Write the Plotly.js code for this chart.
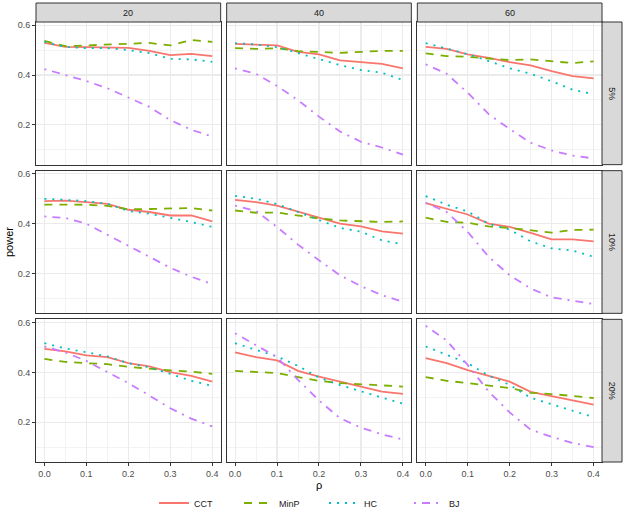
<!DOCTYPE html>
<html><head><meta charset="utf-8">
<script src="https://cdn.plot.ly/plotly-3.0.1.min.js"></script>
<style>html,body{margin:0;padding:0;background:#fff}#chart{width:624px;height:522px}</style>
</head><body><div id="chart"></div>
<script>
// ---- data ----
const rho = [0, 0.05, 0.1, 0.15, 0.2, 0.25, 0.3, 0.35, 0.4];
const colLevels = ['20', '40', '60'];
const rowLevels = ['5%', '10%', '20%'];
const methods = ['CCT', 'MinP', 'HC', 'BJ'];

// row 5%
const CCT_20_5  = [0.529,0.513,0.512,0.512,0.509,0.497,0.480,0.485,0.476];
const MinP_20_5 = [0.537,0.516,0.519,0.523,0.525,0.529,0.519,0.541,0.533];
const HC_20_5   = [0.533,0.513,0.508,0.508,0.500,0.488,0.465,0.463,0.453];
const BJ_20_5   = [0.424,0.401,0.376,0.347,0.311,0.272,0.219,0.180,0.153];
const CCT_40_5  = [0.525,0.523,0.519,0.493,0.483,0.459,0.452,0.445,0.427];
const MinP_40_5 = [0.508,0.505,0.508,0.496,0.493,0.489,0.493,0.497,0.497];
const HC_40_5   = [0.528,0.523,0.512,0.488,0.463,0.440,0.420,0.409,0.380];
const BJ_40_5   = [0.427,0.405,0.356,0.299,0.233,0.173,0.132,0.109,0.080];
const CCT_60_5  = [0.513,0.505,0.483,0.469,0.452,0.439,0.416,0.396,0.387];
const MinP_60_5 = [0.487,0.476,0.473,0.467,0.460,0.463,0.456,0.448,0.455];
const HC_60_5   = [0.528,0.505,0.484,0.456,0.427,0.405,0.375,0.341,0.323];
const BJ_60_5   = [0.443,0.405,0.329,0.243,0.183,0.128,0.097,0.076,0.065];
// row 10%
const CCT_20_10  = [0.491,0.493,0.487,0.480,0.456,0.447,0.433,0.433,0.409];
const MinP_20_10 = [0.477,0.477,0.476,0.472,0.458,0.459,0.460,0.463,0.453];
const HC_20_10   = [0.500,0.497,0.491,0.480,0.451,0.440,0.424,0.407,0.387];
const BJ_20_10   = [0.429,0.423,0.400,0.356,0.312,0.269,0.223,0.187,0.157];
const CCT_40_10  = [0.496,0.487,0.473,0.447,0.424,0.400,0.389,0.369,0.360];
const MinP_40_10 = [0.453,0.444,0.445,0.433,0.421,0.413,0.411,0.407,0.409];
const HC_40_10   = [0.512,0.500,0.479,0.447,0.415,0.383,0.368,0.333,0.317];
const BJ_40_10   = [0.473,0.451,0.387,0.316,0.253,0.193,0.149,0.113,0.086];
const CCT_60_10  = [0.483,0.460,0.437,0.400,0.387,0.363,0.337,0.337,0.329];
const MinP_60_10 = [0.424,0.407,0.404,0.389,0.383,0.373,0.364,0.375,0.376];
const HC_60_10   = [0.511,0.476,0.449,0.400,0.376,0.329,0.301,0.292,0.267];
const BJ_60_10   = [0.484,0.447,0.367,0.267,0.193,0.140,0.104,0.091,0.077];
// row 20%
const CCT_20_20  = [0.494,0.484,0.468,0.461,0.437,0.424,0.401,0.386,0.363];
const MinP_20_20 = [0.454,0.442,0.437,0.433,0.422,0.414,0.408,0.403,0.394];
const HC_20_20   = [0.517,0.496,0.481,0.464,0.437,0.420,0.394,0.366,0.346];
const BJ_20_20   = [0.504,0.480,0.446,0.403,0.357,0.307,0.256,0.214,0.183];
const CCT_40_20  = [0.480,0.461,0.448,0.406,0.383,0.363,0.346,0.323,0.314];
const MinP_40_20 = [0.406,0.401,0.397,0.381,0.366,0.357,0.353,0.346,0.343];
const HC_40_20   = [0.517,0.489,0.464,0.426,0.379,0.349,0.323,0.299,0.274];
const BJ_40_20   = [0.557,0.510,0.461,0.370,0.287,0.216,0.178,0.151,0.130];
const CCT_60_20  = [0.457,0.437,0.409,0.386,0.363,0.322,0.305,0.286,0.270];
const MinP_60_20 = [0.381,0.366,0.357,0.347,0.337,0.318,0.313,0.305,0.297];
const HC_60_20   = [0.504,0.470,0.437,0.387,0.350,0.298,0.271,0.244,0.220];
const BJ_60_20   = [0.587,0.528,0.430,0.323,0.239,0.170,0.141,0.116,0.100];

const panels = {
  CCT:  [[CCT_20_5, CCT_40_5, CCT_60_5], [CCT_20_10, CCT_40_10, CCT_60_10], [CCT_20_20, CCT_40_20, CCT_60_20]],
  MinP: [[MinP_20_5, MinP_40_5, MinP_60_5], [MinP_20_10, MinP_40_10, MinP_60_10], [MinP_20_20, MinP_40_20, MinP_60_20]],
  HC:   [[HC_20_5, HC_40_5, HC_60_5], [HC_20_10, HC_40_10, HC_60_10], [HC_20_20, HC_40_20, HC_60_20]],
  BJ:   [[BJ_20_5, BJ_40_5, BJ_60_5], [BJ_20_10, BJ_40_10, BJ_60_10], [BJ_20_20, BJ_40_20, BJ_60_20]]
};

// ---- styles ----
const colors = {CCT: '#F8766D', MinP: '#7CAE00', HC: '#00BFC4', BJ: '#C77CFF'};
const dashes = {CCT: 'solid', MinP: '8px,7px', HC: '2px,6px', BJ: '2px,6px,8px,6px'};
const FONT = 'Liberation Sans, Arial, Helvetica, sans-serif';

// ---- geometry (pixels) ----
const M = {l: 36, r: 2, t: 3, b: 60};
const PW = 624 - M.l - M.r, PH = 522 - M.t - M.b;
const panelsLeft = 36, panelsRight = 602, gap = 6;
const panelW = (panelsRight - panelsLeft - 2 * gap) / 3;
const stripTop = 3, stripBottom = 22, panelsBottom = 462;
const panelH = (panelsBottom - stripBottom - 2 * gap) / 3;
const px2x = p => (p - M.l) / PW;
const px2y = p => (M.t + PH - p) / PH;

const colDom = [0, 1, 2].map(c => {
  const a = panelsLeft + c * (panelW + gap);
  return [px2x(a), px2x(a + panelW)];
});
const rowDom = [0, 1, 2].map(r => {
  const a = stripBottom + r * (panelH + gap);
  return [px2y(a + panelH), px2y(a)];
});

const layout = {
  width: 624, height: 522,
  margin: {l: M.l, r: M.r, t: M.t, b: M.b, pad: 0},
  paper_bgcolor: '#ffffff', plot_bgcolor: '#ffffff',
  font: {family: FONT, size: 9, color: '#1A1A1A'},
  showlegend: true,
  legend: {orientation: 'h', x: px2x(324), xanchor: 'center', y: px2y(503), yanchor: 'middle',
           entrywidth: 40, entrywidthmode: 'pixels',
           font: {family: FONT, size: 9, color: '#1A1A1A'}, bgcolor: 'rgba(0,0,0,0)', tracegroupgap: 0},
  shapes: [], annotations: []
};

const traces = [];
for (let r = 0; r < 3; r++) {
  for (let c = 0; c < 3; c++) {
    const i = r * 3 + c;
    const xa = i === 0 ? 'xaxis' : 'xaxis' + (i + 1);
    const ya = i === 0 ? 'yaxis' : 'yaxis' + (i + 1);
    const xr = i === 0 ? 'x' : 'x' + (i + 1);
    const yr = i === 0 ? 'y' : 'y' + (i + 1);
    const common = {
      showgrid: true, gridcolor: '#EBEBEB', gridwidth: 1.1, zeroline: false,
      showline: true, mirror: true, linecolor: '#333333', linewidth: 1,
      ticklen: 3, tickwidth: 1, tickcolor: '#333333',
      tickfont: {family: FONT, size: 9, color: '#4D4D4D'},
      tickformat: '.1f', fixedrange: true
    };
    layout[xa] = Object.assign({}, common, {
      domain: colDom[c], anchor: yr, range: [-0.02, 0.42], tick0: 0, dtick: 0.1,
      showticklabels: r === 2, ticks: r === 2 ? 'outside' : '',
      minor: {tick0: 0, dtick: 0.05, showgrid: true, gridcolor: '#EBEBEB', gridwidth: 0.6, ticks: ''}
    });
    layout[ya] = Object.assign({}, common, {
      domain: rowDom[r], anchor: xr, range: [0.04, 0.613], tick0: 0, dtick: 0.2,
      showticklabels: c === 0, ticks: c === 0 ? 'outside' : '',
      minor: {tick0: 0, dtick: 0.1, showgrid: true, gridcolor: '#EBEBEB', gridwidth: 0.6, ticks: ''}
    });
    methods.forEach(m => {
      traces.push({
        type: 'scatter', mode: 'lines', x: rho, y: panels[m][r][c],
        xaxis: xr, yaxis: yr, name: m, legendgroup: m, showlegend: i === 0,
        line: {color: colors[m], width: 1.8, dash: dashes[m]},
        hoverinfo: 'skip'
      });
    });
  }
}

// strips
const stripY = [px2y(stripBottom), px2y(stripTop)];
colLevels.forEach((lab, c) => {
  layout.shapes.push({type: 'rect', xref: 'paper', yref: 'paper', x0: colDom[c][0], x1: colDom[c][1],
    y0: stripY[0], y1: stripY[1], fillcolor: '#D9D9D9', line: {color: '#333333', width: 1}});
  layout.annotations.push({xref: 'paper', yref: 'paper', x: (colDom[c][0] + colDom[c][1]) / 2,
    y: (stripY[0] + stripY[1]) / 2, text: lab, showarrow: false, xanchor: 'center', yanchor: 'middle',
    font: {family: FONT, size: 9, color: '#1A1A1A'}});
});
const stripX = [px2x(panelsRight), px2x(622)];
rowLevels.forEach((lab, r) => {
  layout.shapes.push({type: 'rect', xref: 'paper', yref: 'paper', x0: stripX[0], x1: stripX[1],
    y0: rowDom[r][0], y1: rowDom[r][1], fillcolor: '#D9D9D9', line: {color: '#333333', width: 1}});
  layout.annotations.push({xref: 'paper', yref: 'paper', x: (stripX[0] + stripX[1]) / 2,
    y: (rowDom[r][0] + rowDom[r][1]) / 2, text: lab, textangle: 90, showarrow: false,
    xanchor: 'center', yanchor: 'middle', font: {family: FONT, size: 9, color: '#1A1A1A'}});
});

// axis titles
layout.annotations.push({xref: 'paper', yref: 'paper', x: px2x(9), y: px2y(242), text: 'power',
  textangle: -90, showarrow: false, xanchor: 'center', yanchor: 'middle',
  font: {family: FONT, size: 11, color: '#000000'}});
layout.annotations.push({xref: 'paper', yref: 'paper', x: (colDom[1][0] + colDom[1][1]) / 2, y: px2y(485),
  text: 'ρ', showarrow: false, xanchor: 'center', yanchor: 'middle',
  font: {family: FONT, size: 11, color: '#000000'}});

Plotly.newPlot('chart', traces, layout, {staticPlot: true, displayModeBar: false});
</script>
</body></html>
